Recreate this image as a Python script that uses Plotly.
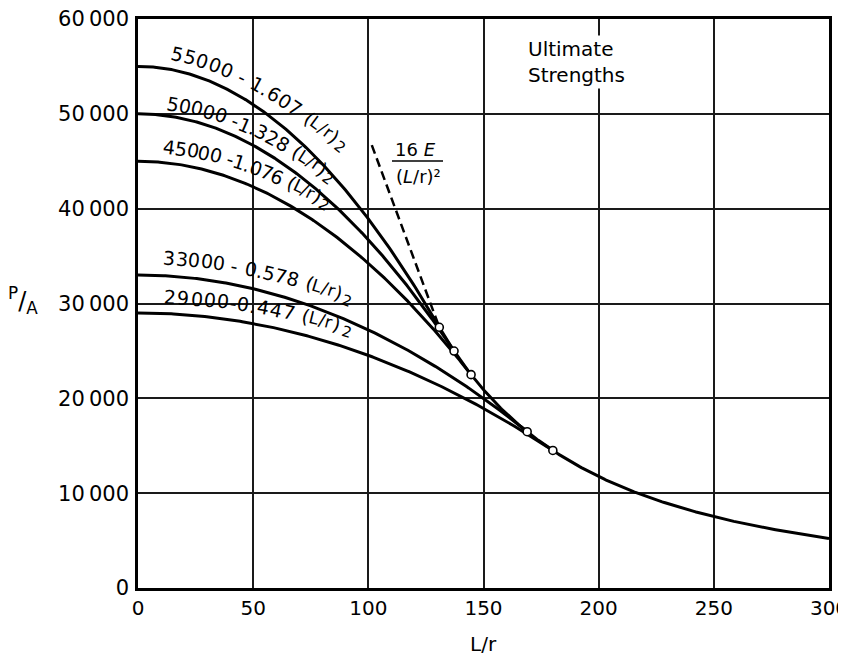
import numpy as np
import plotly.graph_objects as go

# ---- data ----
intercepts = [55000, 50000, 45000, 33000, 29000]          # a in  a - b (L/r)^2
coefs = [1.607, 1.328, 1.076, 0.578, 0.447]              # b
intercept_labels = ["55000", "50000", "45000", "33000", "29000"]
coef_labels = ["1.607", "1.328", "1.076", "0.578", "0.447"]
minus_labels = [" - ", " -", " -", " - ", "-"]           # how the minus sign is lettered
E = 29.4e6                 # modulus used in 16E/(L/r)^2
euler_factor = 16
dashed_top = (101.5, 46700)  # upper end of the dashed 16E/(L/r)^2 line (L/r, P/A)
x_ticks = [0, 50, 100, 150, 200, 250, 300]
y_ticks = [0, 10000, 20000, 30000, 40000, 50000, 60000]
y_tick_labels = ["0", "10\u2009000", "20\u2009000", "30\u2009000", "40\u2009000", "50\u2009000", "60\u2009000"]
x_range = [0, 300]
y_range = [0, 60000]

# ---- layout geometry (page pixels; the page body has an 8px margin) ----
W, H = 846, 658
BODY = 8
PL, PT, PR, PB = 138, 19, 829, 588          # plot area on the page
PW, PH = PR - PL, PB - PT
ML, MT = PL - BODY, PT - BODY
MR, MB = W - ML - PW, H - MT - PH
SX = PW / (x_range[1] - x_range[0])
SY = PH / (y_range[1] - y_range[0])
FONT = "DejaVu Sans"

C = euler_factor * E


def px2x(px):
    return (px - PL) / SX


def py2y(py):
    return (PB - py) / SY


fig = go.Figure()

tangent_x = []
for a, b in zip(intercepts, coefs):
    xt = np.sqrt(a / (2 * b))
    tangent_x.append(xt)
    xs = np.linspace(0, xt, 200)
    fig.add_trace(go.Scatter(x=xs, y=a - b * xs ** 2, mode="lines",
                             line=dict(color="black", width=3), hoverinfo="skip"))

x_first = min(tangent_x)
xs = np.linspace(x_first, x_range[1], 300)
fig.add_trace(go.Scatter(x=xs, y=C / xs ** 2, mode="lines",
                         line=dict(color="black", width=3), hoverinfo="skip"))
fig.add_trace(go.Scatter(x=[dashed_top[0], x_first], y=[dashed_top[1], C / x_first ** 2],
                         mode="lines", line=dict(color="black", width=2.5, dash="9px,5px"),
                         hoverinfo="skip"))

tx = np.array(tangent_x)
fig.add_trace(go.Scatter(x=tx, y=C / tx ** 2, mode="markers",
                         marker=dict(symbol="circle", size=8, color="white",
                                     line=dict(color="black", width=1.6)),
                         hoverinfo="skip"))

# ---- curve labels laid along each parabola ----
WIDTH_EM = {d: 0.636 for d in "0123456789"}
WIDTH_EM.update({" ": 0.318, "-": 0.361, ".": 0.318, "(": 0.39, ")": 0.39,
                 "L": 0.557, "/": 0.337, "r": 0.411})


def angle_at(x, b):
    return np.arctan(2 * b * x * SY / SX)


def advance(x, dist, b, n=8):
    for _ in range(n):
        th = angle_at(x, b)
        x += (dist / n) * np.cos(th) / SX
    return x


label_start = [13.0, 11.7, 10.4, 10.4, 10.9]
label_offset = [(16, 30), (13, 21), (16, 24), (18, 23), (17, 20)]
label_track = [1.0, 0.97, 0.92, 1.0, 1.06]
annotations = []
for a, b, al, ml, bl, x0, (d0, d1), trk in zip(intercepts, coefs, intercept_labels, minus_labels,
                                               coef_labels, label_start, label_offset, label_track):
    pieces = [(c, 19, 0) for c in al + ml + bl + " ("]
    pieces += [(c, 17, 0) for c in "L/r"]
    pieces += [(")", 19, 0), (" ", 8, 0), ("2", 15, -5)]
    widths = [fs * WIDTH_EM[ch] * trk for ch, fs, _ in pieces]
    total = sum(widths)
    pts = []
    s, x = 0.0, x0
    for (ch, fs, dd), w in zip(pieces, widths):
        sc = s + w / 2
        xm = advance(x, w / 2, b)
        th = angle_at(xm, b)
        d = d0 + (d1 - d0) * (sc / total) ** 2
        qx = PL + xm * SX + d * np.sin(th)
        qy = PB - (a - b * xm ** 2) * SY - d * np.cos(th)
        pts.append((ch, fs, dd, xm, th, d, qx, qy))
        s += w
        x = advance(x, w, b)
    n = len(pts)
    for i, (ch, fs, dd, xm, th, d, qx, qy) in enumerate(pts):
        j0, j1 = max(i - 1, 0), min(i + 1, n - 1)
        ang = np.degrees(np.arctan2(pts[j1][7] - pts[j0][7], pts[j1][6] - pts[j0][6]))
        off = d + dd
        if ch.strip():
            annotations.append(dict(
                x=xm, y=a - b * xm ** 2, xref="x", yref="y", text=ch, showarrow=False,
                xanchor="center", yanchor="middle", textangle=ang,
                xshift=off * np.sin(th), yshift=off * np.cos(th),
                font=dict(family=FONT, size=fs, color="black")))

# 16E/(L/r)^2 label
annotations.append(dict(x=px2x(415), y=py2y(149), text="16 <i>E</i>", showarrow=False,
                        xanchor="center", yanchor="middle",
                        font=dict(family=FONT, size=18, color="black")))
annotations.append(dict(x=px2x(418), y=py2y(176), text="(<i>L</i>/r)\u00b2", showarrow=False,
                        xanchor="center", yanchor="middle",
                        font=dict(family=FONT, size=18, color="black")))

# Ultimate Strengths
annotations.append(dict(x=px2x(526), y=py2y(35), text="Ultimate<br>Strengths", showarrow=False,
                        xanchor="left", yanchor="top", align="left", bgcolor="white",
                        borderpad=1, font=dict(family=FONT, size=20, color="black")))

# axis titles
annotations.append(dict(x=(483 - PL) / PW, y=(PB - 644) / PH, xref="paper", yref="paper",
                        text="L/r", showarrow=False, xanchor="center", yanchor="middle",
                        font=dict(family=FONT, size=20, color="black")))
annotations.append(dict(x=(23 - PL) / PW, y=(PB - 300) / PH, xref="paper", yref="paper",
                        text="<sup>P</sup>/<sub>A</sub>", showarrow=False,
                        xanchor="center", yanchor="middle",
                        font=dict(family=FONT, size=24, color="black")))

shapes = [dict(type="line", xref="x", yref="y", x0=px2x(392), x1=px2x(443),
               y0=py2y(161), y1=py2y(161), line=dict(color="black", width=1.6))]

fig.update_layout(
    width=W, height=H, margin=dict(l=ML, r=MR, t=MT, b=MB, autoexpand=False),
    paper_bgcolor="white", plot_bgcolor="white", showlegend=False,
    annotations=annotations, shapes=shapes,
    xaxis=dict(range=x_range, tickvals=x_ticks, ticktext=[str(v) for v in x_ticks],
               showgrid=True, gridcolor="#1a1a1a", gridwidth=1.6, zeroline=False,
               showline=True, mirror=True, linecolor="black", linewidth=2.5,
               ticks="", ticklabelstandoff=0, ticklabeloverflow="allow", automargin=False,
               tickfont=dict(family=FONT, size=20, color="black")),
    yaxis=dict(range=y_range, tickvals=y_ticks, ticktext=y_tick_labels,
               showgrid=True, gridcolor="#1a1a1a", gridwidth=1.6, zeroline=False,
               showline=True, mirror=True, linecolor="black", linewidth=2.5,
               ticks="", ticklabelstandoff=2, ticklabeloverflow="allow", automargin=False,
               tickfont=dict(family=FONT, size=21, color="black")),
)

fig.write_html("out.html")
